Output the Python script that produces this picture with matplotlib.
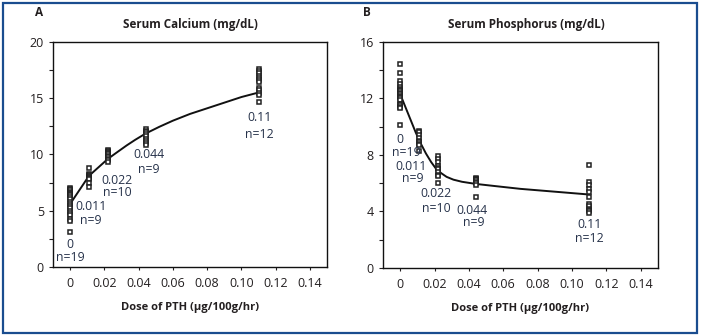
import matplotlib.pyplot as plt
from matplotlib.patches import Rectangle

plt.rcParams['font.family'] = ['Open Sans', 'DejaVu Sans']
ink = '#231f20'

# doses and individual animal values
doses = [0, 0.011, 0.022, 0.044, 0.11]
dose_labels = ['0', '0.011', '0.022', '0.044', '0.11']
n_labels = ['n=19', 'n=9', 'n=10', 'n=9', 'n=12']

ca_0 = [7.0, 6.9, 6.8, 6.7, 6.6, 6.5, 6.4, 6.2, 6.0, 5.8, 5.6, 5.4, 5.2, 5.0, 4.8, 4.6, 4.3, 4.1, 3.1]
ca_011 = [8.8, 8.3, 8.2, 8.1, 8.0, 7.9, 7.8, 7.5, 7.1]
ca_022 = [10.4, 10.3, 10.2, 10.1, 10.0, 9.9, 9.8, 9.6, 9.5, 9.3]
ca_044 = [12.3, 12.1, 12.0, 11.8, 11.6, 11.4, 11.2, 11.0, 10.8]
ca_11 = [17.6, 17.4, 17.2, 17.0, 16.8, 16.6, 16.4, 15.9, 15.7, 15.5, 15.3, 14.7]

p_0 = [14.4, 13.8, 13.2, 13.0, 12.8, 12.7, 12.6, 12.5, 12.4, 12.3, 12.2, 12.1, 12.0, 11.9, 11.6, 11.5, 11.4, 11.3, 10.1]
p_011 = [9.7, 9.6, 9.4, 9.2, 9.0, 8.9, 8.8, 8.7, 8.3]
p_022 = [7.9, 7.7, 7.5, 7.2, 7.1, 7.0, 6.8, 6.6, 6.5, 6.0]
p_044 = [6.4, 6.3, 6.3, 6.2, 6.2, 6.1, 6.0, 5.9, 5.0]
p_11 = [7.3, 6.1, 5.9, 5.6, 5.4, 5.0, 4.5, 4.4, 4.2, 4.1, 4.0, 3.9]

# fitted curves
ca_fit_x = [0, 0.011, 0.022, 0.027, 0.033, 0.038, 0.044, 0.052, 0.06, 0.07, 0.08, 0.09, 0.10, 0.11]
ca_fit_y = [5.6, 8.1, 9.6, 10.15, 10.8, 11.3, 11.85, 12.45, 13.0, 13.6, 14.1, 14.6, 15.1, 15.5]
p_fit_x = [0, 0.003, 0.006, 0.009, 0.012, 0.015, 0.018, 0.021, 0.024, 0.027,
           0.031, 0.036, 0.044, 0.055, 0.07, 0.09, 0.11]
p_fit_y = [12.3, 11.4, 10.5, 9.6, 8.8, 8.1, 7.5, 7.0, 6.7, 6.45,
           6.25, 6.1, 5.95, 5.8, 5.6, 5.4, 5.2]

# label anchor positions (data coords)
ca_lab_x = [0, 0.0121, 0.0274, 0.046, 0.1107]
ca_lab_y = [2.0, 5.4, 7.7, 9.95, 13.3]
ca_n_y = [0.85, 4.1, 6.6, 8.7, 11.8]
p_lab_x = [0, 0.0064, 0.021, 0.042, 0.110]
p_n_x = [0.0035, 0.0073, 0.021, 0.043, 0.110]
p_lab_y = [9.1, 7.15, 5.25, 4.1, 3.1]
p_n_y = [8.2, 6.3, 4.2, 3.2, 2.1]

fig = plt.figure(figsize=(7.01, 3.35), dpi=100)
fig.patches.append(Rectangle((2.5 / 701, 2.5 / 335), 694 / 701, 330 / 335,
                             transform=fig.transFigure, fill=False,
                             edgecolor='#1a4d8f', linewidth=1.6))

ax1 = fig.add_axes([0.0756, 0.203, 0.391, 0.672])
ax2 = fig.add_axes([0.5464, 0.200, 0.392, 0.675])

xt = [0, 0.02, 0.04, 0.06, 0.08, 0.10, 0.12, 0.14]
xtl = ['0', '0.02', '0.04', '0.06', '0.08', '0.10', '0.12', '0.14']


def panel(ax, groups, fx, fy, ymax, ymaj, ymin, title, tx):
    for d, vals in zip(doses, groups):
        ax.plot([d] * len(vals), vals, ls='none', marker='s', ms=3.2,
                mfc='white', mec='#222222', mew=1.1, zorder=3)
    ax.plot(fx, fy, color='#111111', lw=1.4, zorder=2)
    ax.set_xlim(-0.01, 0.15)
    ax.set_ylim(0, ymax)
    ax.set_xticks(xt)
    ax.set_xticklabels(xtl)
    ax.set_yticks(ymaj)
    ax.set_yticks(ymin, minor=True)
    ax.tick_params(axis='both', which='both', direction='out', length=3,
                   width=0.8, labelsize=9, colors=ink)
    ax.tick_params(axis='x', length=2, pad=5)
    for s in ax.spines.values():
        s.set_linewidth(1.0)
        s.set_color('#111111')
    ax.set_title(title, fontsize=8.4, fontweight='bold', color=ink, pad=10, x=tx)
    ax.set_xlabel('Dose of PTH (\u03bcg/100g/hr)', fontsize=8,
                  fontweight='bold', color=ink, labelpad=9)


panel(ax1, [ca_0, ca_011, ca_022, ca_044, ca_11], ca_fit_x, ca_fit_y, 20,
      [0, 5, 10, 15, 20], [2.5, 7.5, 12.5, 17.5], 'Serum Calcium (mg/dL)', 0.5)
panel(ax2, [p_0, p_011, p_022, p_044, p_11], p_fit_x, p_fit_y, 16,
      [0, 4, 8, 12, 16], [2, 6, 10, 14], 'Serum Phosphorus (mg/dL)', 0.522)

fig.text(35 / 701, 1 - 13 / 335, 'A', fontsize=8.5, fontweight='bold',
         color=ink, va='center')
fig.text(363 / 701, 1 - 13 / 335, 'B', fontsize=8.5, fontweight='bold',
         color=ink, va='center')

for i in range(5):
    ax1.text(ca_lab_x[i], ca_lab_y[i], dose_labels[i], ha='center', va='center',
             fontsize=8.8, color='#26324a')
    ax1.text(ca_lab_x[i], ca_n_y[i], n_labels[i], ha='center', va='center',
             fontsize=8.8, color='#26324a')
    ax2.text(p_lab_x[i], p_lab_y[i], dose_labels[i], ha='center', va='center',
             fontsize=8.8, color='#26324a')
    ax2.text(p_n_x[i], p_n_y[i], n_labels[i], ha='center', va='center',
             fontsize=8.8, color='#26324a')

fig.savefig('out.png', dpi=100)
